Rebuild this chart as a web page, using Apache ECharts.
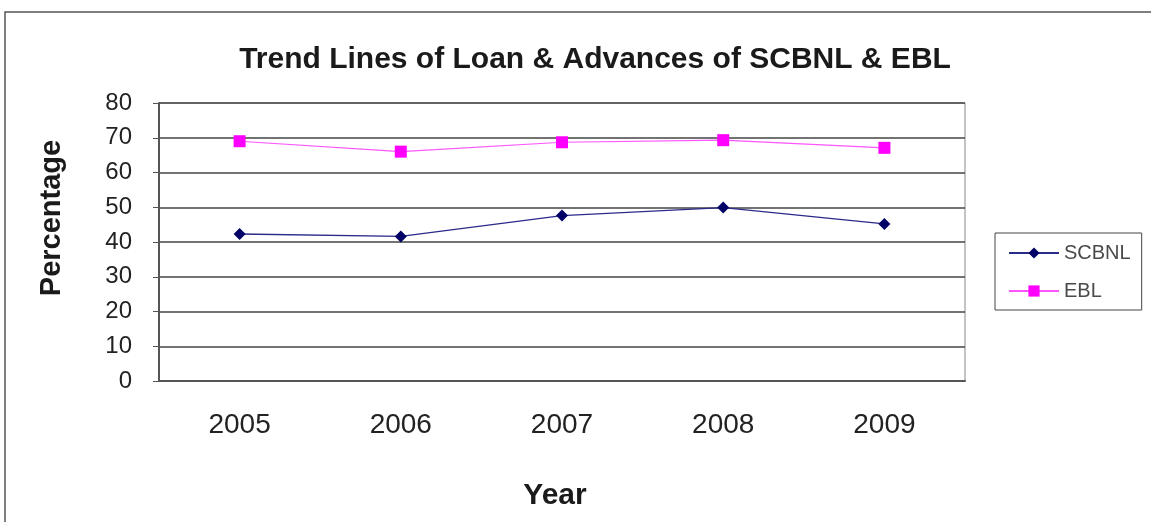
<!DOCTYPE html>
<html>
<head>
<meta charset="utf-8">
<script src="https://cdn.jsdelivr.net/npm/echarts@6/dist/echarts.min.js"></script>
<style>
  html, body { margin: 0; padding: 0; background: #fff; }
  #chart { width: 1151px; height: 522px; }
</style>
</head>
<body>
<div id="chart"></div>
<script>
var years = ["2005", "2006", "2007", "2008", "2009"];
var scbnl = [42.3, 41.6, 47.6, 49.9, 45.2];
var ebl = [69.0, 66.0, 68.7, 69.3, 67.1];
var yTicks = { min: 0, max: 80, step: 10 };

var myChart = echarts.init(document.getElementById("chart"), null, { renderer: "canvas" });
var font = "Liberation Sans, Arial, sans-serif";
var option = {
  animation: false,
  backgroundColor: "#fff",
  textStyle: { fontFamily: font },
  graphic: [
    {
      type: "rect",
      shape: { x: 5, y: 12, width: 1200, height: 560 },
      style: { fill: "none", stroke: "#555", lineWidth: 1.5 },
      silent: true,
    },
    {
      // y axis title sits a bit above the plot's middle in the original
      type: "text",
      x: 52,
      y: 218,
      rotation: Math.PI / 2,
      style: {
        text: "Percentage",
        fontSize: 29,
        fontWeight: "bold",
        fontFamily: font,
        fill: "#1a1a1a",
        align: "center",
        verticalAlign: "middle",
      },
      silent: true,
    },
  ],
  title: {
    text: "Trend Lines of Loan & Advances of SCBNL & EBL",
    left: 590,
    top: 40,
    textAlign: "center",
    textStyle: { fontSize: 30, fontWeight: "bold", color: "#1a1a1a", fontFamily: font },
  },
  legend: {
    orient: "vertical",
    left: 995,
    top: 233,
    padding: [10, 11, 9, 13],
    itemGap: 18,
    itemWidth: 50,
    itemHeight: 14,
    borderColor: "#444",
    borderWidth: 1,
    textStyle: { fontSize: 20, color: "#4a4a4a", fontFamily: font },
    data: ["SCBNL", "EBL"],
  },
  grid: {
    left: 159,
    right: 186,
    top: 103,
    bottom: 141,
    show: true,
    borderColor: "#888",
    borderWidth: 1,
  },
  xAxis: {
    type: "category",
    data: years,
    boundaryGap: true,
    name: "Year",
    nameLocation: "middle",
    nameGap: 100,
    nameTextStyle: { fontSize: 30, fontWeight: "bold", color: "#1a1a1a", padding: [0, 14, 0, 0] },
    axisLine: { lineStyle: { color: "#555", width: 2 } },
    axisTick: { length: 7, lineStyle: { color: "#555" } },
    axisLabel: { fontSize: 28, color: "#222", margin: 30 },
  },
  yAxis: {
    type: "value",
    min: yTicks.min,
    max: yTicks.max,
    interval: yTicks.step,
    axisLine: { show: true, lineStyle: { color: "#555", width: 2 } },
    axisTick: { show: true, length: 6, lineStyle: { color: "#555" } },
    axisLabel: { fontSize: 24, color: "#222", margin: 27 },
    splitLine: { lineStyle: { color: "#444", width: 1.5 } },
  },
  series: [
    {
      name: "SCBNL",
      type: "line",
      data: scbnl,
      symbol: "diamond",
      symbolSize: 12,
      itemStyle: { color: "#000066" },
      lineStyle: { color: "#2a2a8a", width: 1.3 },
    },
    {
      name: "EBL",
      type: "line",
      data: ebl,
      symbol: "rect",
      symbolSize: 12,
      itemStyle: { color: "#ff00ff" },
      lineStyle: { color: "#ff55ff", width: 1.2 },
    },
  ],
};
if (option && typeof option === "object") {
  myChart.setOption(option);
}
window.addEventListener("resize", myChart.resize);
</script>
</body>
</html>
